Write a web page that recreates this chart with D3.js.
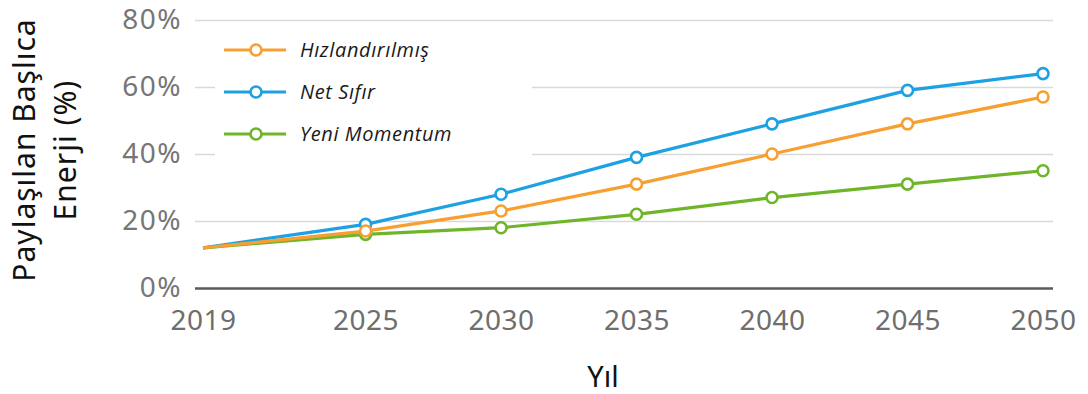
<!DOCTYPE html>
<html>
<head>
<meta charset="utf-8">
<script src="https://cdn.jsdelivr.net/npm/d3@7"></script>
<style>
  html, body { margin: 0; padding: 0; background: #fff; }
  svg { display: block; }
</style>
</head>
<body>
<svg id="chart" width="1088" height="394"></svg>
<script>
// Share of primary energy by scenario, 2019–2050
const years = [2019, 2025, 2030, 2035, 2040, 2045, 2050];
const hizlandirilmis = [12, 17, 23, 31, 40, 49, 57];
const netSifir = [12, 19, 28, 39, 49, 59, 64];
const yeniMomentum = [12, 16, 18, 22, 27, 31, 35];
const yTicks = [0, 20, 40, 60, 80];
const seriesNames = ["Hızlandırılmış", "Net Sıfır", "Yeni Momentum"];
const seriesColors = ["#F79F31", "#1DA1E2", "#6FB52A"];

const series = [hizlandirilmis, netSifir, yeniMomentum].map((vals, i) => ({
  name: seriesNames[i],
  color: seriesColors[i],
  points: years.map((y, j) => ({ year: y, value: vals[j] }))
}));

const svg = d3.select("#chart");
const font = "'Noto Sans', 'Open Sans', sans-serif";

const x = d3.scaleLinear().domain([2019, 2050]).range([203, 1043]);
const y = d3.scaleLinear().domain([0, 80]).range([288, 20]);
const gridLeft = 195, gridRight = 1053;

// Horizontal gridlines and percent labels
const yAxis = svg.append("g")
  .attr("transform", `translate(${gridLeft},0)`)
  .call(d3.axisLeft(y).tickValues(yTicks).tickSize(-(gridRight - gridLeft)).tickPadding(13).tickFormat(d => d + "%"));
yAxis.select(".domain").remove();
yAxis.selectAll(".tick line")
  .attr("stroke", d => d === 0 ? "#5a5a5a" : "#d9d9d9")
  .attr("stroke-width", d => d === 0 ? 2.5 : 1.5);
yAxis.selectAll(".tick text")
  .attr("fill", "#767676")
  .style("font-family", font)
  .style("font-size", "28px")
  .style("letter-spacing", "1.5px");

// Year labels
const xAxis = svg.append("g")
  .attr("transform", `translate(0,${y(0)})`)
  .call(d3.axisBottom(x).tickValues(years).tickSize(0).tickPadding(22).tickFormat(d3.format("d")));
xAxis.select(".domain").remove();
xAxis.selectAll(".tick text")
  .attr("fill", "#6e6e6e")
  .style("font-family", font)
  .style("font-size", "28px")
  .style("letter-spacing", "0.5px");

// Legend panel (white background over the gridlines)
const legend = svg.append("g");
legend.append("rect")
  .attr("x", 215).attr("y", 28).attr("width", 317).attr("height", 130)
  .attr("fill", "#fff");

// Scenario lines
const line = d3.line().x(d => x(d.year)).y(d => y(d.value));
const plot = svg.append("g");
series.slice().reverse().forEach(s => {
  plot.append("path")
    .datum(s.points)
    .attr("fill", "none")
    .attr("stroke", s.color)
    .attr("stroke-width", 3.2)
    .attr("stroke-linejoin", "round")
    .attr("d", line);
});
series.slice().reverse().forEach(s => {
  plot.selectAll(null)
    .data(s.points.filter(p => p.year !== 2019))
    .join("circle")
    .attr("cx", d => x(d.year))
    .attr("cy", d => y(d.value))
    .attr("r", 5.5)
    .attr("fill", "#fff")
    .attr("stroke", s.color)
    .attr("stroke-width", 2.6);
});

// Legend entries
const legendRows = [50, 92, 134];
series.forEach((s, i) => {
  const g = legend.append("g").attr("transform", `translate(0,${legendRows[i]})`);
  g.append("line").attr("x1", 224).attr("x2", 286).attr("y1", 0).attr("y2", 0)
    .attr("stroke", s.color).attr("stroke-width", 3.2);
  g.append("circle").attr("cx", 256).attr("cy", 0).attr("r", 5.5)
    .attr("fill", "#fff").attr("stroke", s.color).attr("stroke-width", 2.6);
  g.append("text").attr("x", 300).attr("y", 0).attr("dy", "0.35em")
    .attr("fill", "#1a1a1a")
    .style("font-family", "'Open Sans', 'Noto Sans', sans-serif")
    .style("font-style", "italic")
    .style("font-size", "20px")
    .style("letter-spacing", "0.6px")
    .text(s.name);
});

// Axis titles
svg.append("text")
  .attr("x", 603).attr("y", 387)
  .attr("text-anchor", "middle")
  .attr("fill", "#111")
  .style("font-family", font)
  .style("font-size", "29px")
  .text("Yıl");

const yTitle = svg.append("text")
  .attr("transform", "translate(0,150) rotate(-90)")
  .attr("text-anchor", "middle")
  .attr("fill", "#111")
  .style("font-family", font)
  .style("font-size", "30px")
  .style("letter-spacing", "1px");
yTitle.append("tspan").attr("x", 0).attr("y", 35).text("Paylaşılan Başlıca");
yTitle.append("tspan").attr("x", 0).attr("y", 76).text("Enerji (%)");
</script>
</body>
</html>
